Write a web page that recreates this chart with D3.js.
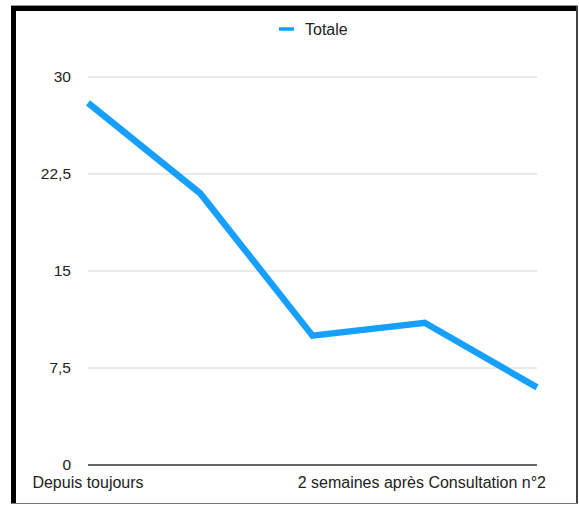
<!DOCTYPE html>
<html>
<head>
<meta charset="utf-8">
<script src="https://cdn.jsdelivr.net/npm/d3@7"></script>
<style>
  html, body { margin: 0; padding: 0; background: #fff; }
  svg { display: block; font-family: "Liberation Sans", Arial, Helvetica, sans-serif; }
</style>
</head>
<body>
<svg id="chart" width="579" height="506"></svg>
<script>
// Series: "Totale" over five time points
const seriesName = "Totale";
const pointIndex = [0, 1, 2, 3, 4];
const totals = [28, 21, 10, 11, 6];
// Only the first and last categories carry a visible label
const xLabels = ["Depuis toujours", "2 semaines après Consultation n°2"];
const yTicks = [0, 7.5, 15, 22.5, 30];

const svg = d3.select("#chart");
const W = 579, H = 506;
const lineColor = "#17a0fb";

// Frame
svg.append("rect").attr("x", 0).attr("y", 0).attr("width", W).attr("height", H).attr("fill", "#fff");
svg.append("rect").attr("x", 11).attr("y", 5).attr("width", 567).attr("height", 1).attr("fill", "#9a9a9a");
svg.append("rect").attr("x", 11).attr("y", 6).attr("width", 567).attr("height", 5).attr("fill", "#000");
svg.append("rect").attr("x", 11).attr("y", 6).attr("width", 5).attr("height", 498).attr("fill", "#000");
svg.append("rect").attr("x", 576).attr("y", 6).attr("width", 2).attr("height", 498).attr("fill", "#444");
svg.append("rect").attr("x", 11).attr("y", 503).attr("width", 567).attr("height", 1).attr("fill", "#777");

const x = d3.scaleLinear().domain([0, 4]).range([88, 537]);
const y = d3.scaleLinear().domain([0, 30]).range([465, 77]);

// Horizontal gridlines
svg.append("g")
  .selectAll("line")
  .data(yTicks.filter(d => d !== 0))
  .join("line")
  .attr("x1", x(0)).attr("x2", x(4))
  .attr("y1", d => y(d)).attr("y2", d => y(d))
  .attr("stroke", "#d4d4d4").attr("stroke-width", 1);

// Y axis labels (comma decimal)
const fmt = d => String(d).replace(".", ",");
const yAxis = d3.axisLeft(y).tickValues(yTicks).tickSize(0).tickPadding(0).tickFormat(fmt);
const gy = svg.append("g").attr("transform", "translate(71,0)").call(yAxis);
gy.select(".domain").remove();
gy.selectAll("text").attr("font-size", 15.5).attr("fill", "#222").attr("font-family", "Liberation Sans, Arial, sans-serif");

// Baseline
svg.append("line")
  .attr("x1", x(0)).attr("x2", x(4))
  .attr("y1", y(0)).attr("y2", y(0))
  .attr("stroke", "#333").attr("stroke-width", 1.5);

// X labels
svg.append("text").attr("x", x(0)).attr("y", 488).attr("text-anchor", "middle")
  .attr("font-size", 16).attr("fill", "#222").text(xLabels[0]);
svg.append("text").attr("x", 546).attr("y", 488).attr("text-anchor", "end")
  .attr("font-size", 16).attr("fill", "#222").text(xLabels[1]);

// Line
const line = d3.line().x(d => x(d)).y((d, i) => y(totals[i]));
svg.append("path")
  .datum(pointIndex)
  .attr("d", line)
  .attr("fill", "none")
  .attr("stroke", lineColor)
  .attr("stroke-width", 6.5)
  .attr("stroke-linejoin", "miter");

// Legend
svg.append("line").attr("x1", 279).attr("x2", 294).attr("y1", 29).attr("y2", 29)
  .attr("stroke", lineColor).attr("stroke-width", 3.5);
svg.append("text").attr("x", 305).attr("y", 35).attr("font-size", 16).attr("fill", "#222").text(seriesName);
</script>
</body>
</html>
